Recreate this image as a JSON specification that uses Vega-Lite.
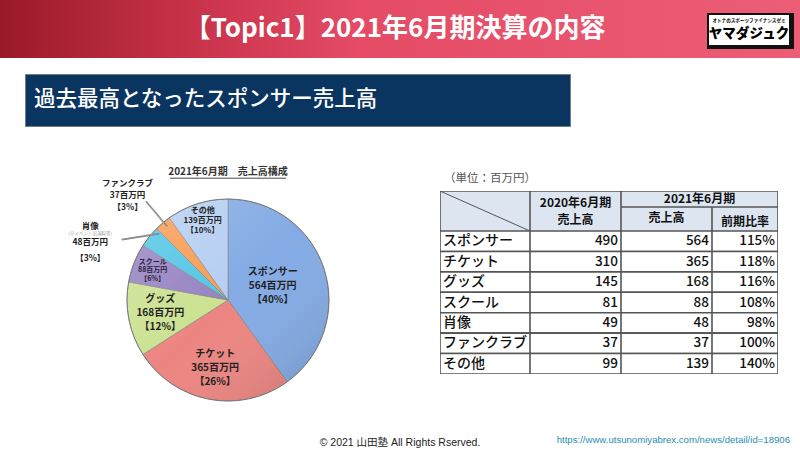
{
  "$schema": "https://vega.github.io/schema/vega-lite/v6.json",
  "background": "white",
  "padding": 0,
  "config": {"view": {"stroke": null}, "font": "Noto Sans CJK JP"},
  "datasets": {
    "sales": [
      {"category": "スポンサー", "v2020": 490, "v2021": 564, "ratio": "115%", "share": "40%"},
      {"category": "チケット", "v2020": 310, "v2021": 365, "ratio": "118%", "share": "26%"},
      {"category": "グッズ", "v2020": 145, "v2021": 168, "ratio": "116%", "share": "12%"},
      {"category": "スクール", "v2020": 81, "v2021": 88, "ratio": "108%", "share": "6%"},
      {"category": "肖像", "v2020": 49, "v2021": 48, "ratio": "98%", "share": "3%"},
      {"category": "ファンクラブ", "v2020": 37, "v2021": 37, "ratio": "100%", "share": "3%"},
      {"category": "その他", "v2020": 99, "v2021": 139, "ratio": "140%", "share": "10%"}
    ]
  },
  "spacing": 15,
  "vconcat": [
    {
      "width": 800,
      "height": 58,
      "view": {"fill": {"gradient": "linear", "x1": 0, "y1": 0, "x2": 1, "y2": 0, "stops": [{"offset": 0, "color": "#9a1a2a"}, {"offset": 0.22, "color": "#c53047"}, {"offset": 0.45, "color": "#e54b65"}, {"offset": 1, "color": "#ec5d76"}]}, "stroke": null},
      "data": {"values": [{"title": "【Topic1】2021年6月期決算の内容", "logo": "ヤマダジュク", "tag": "オトナのスポーツファイナンスゼミ"}]},
      "layer": [
        {"mark": {"type": "text", "color": "white", "fontSize": 26, "fontWeight": "bold", "dx": -5}, "encoding": {"text": {"field": "title"}}},
        {"mark": {"type": "point", "filled": true, "color": "#111111", "opacity": 1, "size": 10000, "shape": "M-1.86,-0.32L-0.12,-0.32L-0.12,0.40L-1.86,0.40Z"}, "encoding": {"x": {"value": "width"}}},
        {"mark": {"type": "point", "filled": true, "color": "white", "opacity": 1, "size": 10000, "shape": "M-1.82,-0.28L-0.22,-0.28L-0.22,0.32L-1.82,0.32Z"}, "encoding": {"x": {"value": "width"}}},
        {"mark": {"type": "text", "color": "black", "fontSize": 13.5, "fontWeight": 900, "dx": -51, "dy": 5}, "encoding": {"x": {"value": "width"}, "text": {"field": "logo"}}},
        {"mark": {"type": "text", "color": "black", "fontSize": 4.6, "fontWeight": "bold", "dx": -51, "dy": -8}, "encoding": {"x": {"value": "width"}, "text": {"field": "tag"}}}
      ]
    },
    {
      "spacing": 39,
      "vconcat": [
        {
          "spacing": 24,
          "bounds": "flush",
          "hconcat": [
            {"width": 1, "height": 1, "data": {"values": []}, "mark": "point"},
            {
              "width": 545,
              "height": 52,
              "view": {"fill": "#0b3561", "stroke": "#6f7c8c"},
              "data": {"values": [{"t": "過去最高となったスポンサー売上高"}]},
              "mark": {"type": "text", "align": "left", "color": "white", "fontSize": 21.5, "fontWeight": 500, "dx": 9},
              "encoding": {"x": {"value": 0}, "text": {"field": "t"}}
            }
          ]
        },
        {
          "spacing": 1,
          "vconcat": [
            {
              "spacing": 29,
              "hconcat": [
                {"width": 1, "height": 1, "data": {"values": []}, "mark": "point"},
                {
                  "spacing": 14,
                  "hconcat": [
                    {
                      "width": 396,
                      "height": 268,
                      "data": {"name": "sales"},
                      "transform": [
                        {"stack": "v2021", "groupby": [], "as": ["t0", "t1"]},
                        {"calculate": "(datum.t0 + datum.t1) / 2", "as": "mid"},
                        {"calculate": "datum.category + '\\n' + datum.v2021 + '百万円\\n【' + datum.share + '】'", "as": "lbl"}
                      ],
                      "layer": [
                        {
                          "mark": {"type": "arc", "radius": 101, "stroke": "#808080", "strokeWidth": 0.6},
                          "encoding": {
                            "theta": {"field": "t1", "type": "quantitative"},
                            "theta2": {"field": "t0"},
                            "color": {"field": "category", "type": "nominal", "legend": null, "scale": {"domain": ["スポンサー", "チケット", "グッズ", "スクール", "肖像", "ファンクラブ", "その他"], "range": ["#84abe5", "#ec8581", "#cbe191", "#9683c3", "#52c6e5", "#f89c55", "#b5cef2"]}}
                          }
                        },
                        {
                          "data": {"values": [{}]},
                          "mark": {"type": "arc", "radius": 101, "theta": 0, "theta2": 6.2832, "fill": {"gradient": "linear", "x1": 0, "y1": 0, "x2": 1, "y2": 1, "stops": [{"offset": 0, "color": "rgba(255,255,255,0.22)"}, {"offset": 0.5, "color": "rgba(255,255,255,0)"}, {"offset": 1, "color": "rgba(0,0,0,0.16)"}]}, "stroke": "#6d6d6d", "strokeWidth": 0.8},
                          "encoding": {}
                        },
                        {
                          "data": {"values": [{"t": "2021年6月期　売上高構成"}]},
                          "mark": {"type": "text", "radius": 128, "fontSize": 10, "fontWeight": "bold", "color": "#333333"},
                          "encoding": {"theta": {"datum": 0, "type": "quantitative"}, "text": {"field": "t"}}
                        },
                        {
                          "data": {"values": [{}]},
                          "mark": {"type": "point", "filled": false, "opacity": 1, "stroke": "#333333", "strokeWidth": 0.9, "size": 13456, "shape": "M-1,-2.1L1,-2.1"},
                          "encoding": {}
                        },
                        {
                          "transform": [{"filter": "datum.category === 'スポンサー'"}],
                          "mark": {"type": "text", "radius": 47, "dy": -14, "fontSize": 10, "fontWeight": "bold", "lineHeight": 14, "lineBreak": "\n", "color": "#222222"},
                          "encoding": {"theta": {"field": "mid", "type": "quantitative"}, "text": {"field": "lbl"}}
                        },
                        {
                          "transform": [{"filter": {"field": "category", "oneOf": ["チケット", "グッズ"]}}],
                          "mark": {"type": "text", "radius": 69, "dy": -14, "fontSize": 10, "fontWeight": "bold", "lineHeight": 14, "lineBreak": "\n", "color": "#222222"},
                          "encoding": {"theta": {"field": "mid", "type": "quantitative"}, "text": {"field": "lbl"}}
                        },
                        {
                          "transform": [{"filter": "datum.category === 'その他'"}],
                          "mark": {"type": "text", "radius": 83, "dy": -10, "fontSize": 8, "fontWeight": "bold", "lineHeight": 10, "lineBreak": "\n", "color": "#222222"},
                          "encoding": {"theta": {"field": "mid", "type": "quantitative"}, "text": {"field": "lbl"}}
                        },
                        {
                          "transform": [{"filter": "datum.category === 'スクール'"}],
                          "mark": {"type": "text", "radius": 81, "dy": -8.5, "fontSize": 7, "fontWeight": "bold", "lineHeight": 8.5, "lineBreak": "\n", "color": "#2a2040"},
                          "encoding": {"theta": {"field": "mid", "type": "quantitative"}, "text": {"field": "lbl"}}
                        },
                        {
                          "transform": [{"filter": "datum.category === 'ファンクラブ'"}],
                          "mark": {"type": "text", "radius": 140, "dx": -10, "dy": -10, "fontSize": 8.5, "fontWeight": "bold", "lineHeight": 12, "lineBreak": "\n", "color": "#222222"},
                          "encoding": {"theta": {"field": "mid", "type": "quantitative"}, "text": {"field": "lbl"}}
                        },
                        {
                          "transform": [{"filter": "datum.category === '肖像'"}],
                          "mark": {"type": "text", "radius": 150, "dx": -21, "dy": 20.4, "fontSize": 8.5, "fontWeight": "bold", "lineHeight": 16, "lineBreak": "\n", "color": "#222222"},
                          "encoding": {"theta": {"field": "mid", "type": "quantitative"}, "text": {"field": "lbl"}}
                        },
                        {
                          "transform": [{"filter": "datum.category === '肖像'"}],
                          "mark": {"type": "text", "radius": 150, "dx": -21, "dy": 28.6, "fontSize": 4.5, "color": "#9a9a9a"},
                          "encoding": {"theta": {"field": "mid", "type": "quantitative"}, "text": {"value": "(※イベント出演料等)"}}
                        },
                        {
                          "transform": [{"filter": "datum.category === 'ファンクラブ'"}],
                          "mark": {"type": "text", "radius": 112, "angle": 50, "font": "DejaVu Sans Mono", "fontSize": 18, "color": "#8c8c8c"},
                          "encoding": {"theta": {"field": "mid", "type": "quantitative"}, "text": {"value": "───"}}
                        },
                        {
                          "transform": [{"filter": "datum.category === '肖像'"}],
                          "mark": {"type": "text", "radius": 114, "angle": -9, "dx": 0, "dy": 9.5, "font": "DejaVu Sans Mono", "fontSize": 21, "color": "#8c8c8c"},
                          "encoding": {"theta": {"field": "mid", "type": "quantitative"}, "text": {"value": "───"}}
                        }
                      ]
                    },
                    {
                      "spacing": 0,
                      "vconcat": [
                        {
                          "width": 338,
                          "height": 25,
                          "data": {"values": [{"t": "（単位：百万円）"}]},
                          "mark": {"type": "text", "align": "left", "dx": 4, "fontSize": 11.5, "color": "#555555"},
                          "encoding": {"x": {"value": 0}, "text": {"field": "t"}}
                        },
                        {
                          "spacing": 0,
                          "hconcat": [
                            {
                              "spacing": 0,
                              "bounds": "flush",
                              "vconcat": [
                                {
                                  "width": 90,
                                  "height": 40,
                                  "data": {"values": [{}]},
                                  "layer": [
                                    {"mark": {"type": "rect", "fill": "#dde5f1", "stroke": "#555555", "strokeWidth": 1.6, "clip": true}, "encoding": {}},
                                    {"mark": {"type": "rule", "color": "#555555", "strokeWidth": 1, "clip": true}, "encoding": {"x": {"value": 0}, "y": {"value": 0}, "x2": {"value": "width"}, "y2": {"value": "height"}}}
                                  ]
                                },
                                {
                                  "width": 90,
                                  "height": 143,
                                  "data": {"name": "sales"},
                                  "encoding": {"y": {"field": "category", "type": "nominal", "sort": null, "axis": null, "scale": {"paddingInner": 0, "paddingOuter": 0}}},
                                  "layer": [
                                    {"mark": {"type": "rect", "fill": "white", "stroke": "#555555", "strokeWidth": 1.6, "clip": true}},
                                    {"mark": {"type": "text", "align": "left", "dx": 3, "fontSize": 14, "fontWeight": 500, "color": "#111111"}, "encoding": {"x": {"value": 0}, "text": {"field": "category"}}}
                                  ]
                                }
                              ]
                            },
                            {
                              "spacing": 0,
                              "bounds": "flush",
                              "vconcat": [
                                {
                                  "width": 91,
                                  "height": 40,
                                  "data": {"values": [{}]},
                                  "layer": [
                                    {"mark": {"type": "rect", "fill": "#dde5f1", "stroke": "#555555", "strokeWidth": 1.6, "clip": true}, "encoding": {}},
                                    {"mark": {"type": "text", "fontSize": 12, "fontWeight": "bold", "lineHeight": 17, "dy": -8.5, "color": "#111111"}, "encoding": {"text": {"value": ["2020年6月期", "売上高"]}}}
                                  ]
                                },
                                {
                                  "width": 91,
                                  "height": 143,
                                  "data": {"name": "sales"},
                                  "encoding": {"y": {"field": "category", "type": "nominal", "sort": null, "axis": null, "scale": {"paddingInner": 0, "paddingOuter": 0}}},
                                  "layer": [
                                    {"mark": {"type": "rect", "fill": "white", "stroke": "#555555", "strokeWidth": 1.6, "clip": true}},
                                    {"mark": {"type": "text", "align": "right", "dx": -3, "fontSize": 13.5, "fontWeight": 500, "color": "#111111"}, "encoding": {"x": {"value": "width"}, "text": {"field": "v2020", "type": "quantitative"}}}
                                  ]
                                }
                              ]
                            },
                            {
                              "spacing": 0,
                              "vconcat": [
                                {
                                  "width": 157,
                                  "height": 16,
                                  "data": {"values": [{}]},
                                  "layer": [
                                    {"mark": {"type": "rect", "fill": "#dde5f1", "stroke": "#555555", "strokeWidth": 1.6, "clip": true}, "encoding": {}},
                                    {"mark": {"type": "text", "fontSize": 12, "fontWeight": "bold", "color": "#111111"}, "encoding": {"text": {"value": "2021年6月期"}}}
                                  ]
                                },
                                {
                                  "spacing": 0,
                                  "hconcat": [
                                    {
                                      "spacing": 0,
                                      "bounds": "flush",
                                      "vconcat": [
                                        {
                                          "width": 91,
                                          "height": 24,
                                          "data": {"values": [{}]},
                                          "layer": [
                                            {"mark": {"type": "rect", "fill": "#dde5f1", "stroke": "#555555", "strokeWidth": 1.6, "clip": true}, "encoding": {}},
                                            {"mark": {"type": "text", "fontSize": 12, "fontWeight": "bold", "color": "#111111", "dy": -1}, "encoding": {"text": {"value": "売上高"}}}
                                          ]
                                        },
                                        {
                                          "width": 91,
                                          "height": 143,
                                          "data": {"name": "sales"},
                                          "encoding": {"y": {"field": "category", "type": "nominal", "sort": null, "axis": null, "scale": {"paddingInner": 0, "paddingOuter": 0}}},
                                          "layer": [
                                            {"mark": {"type": "rect", "fill": "white", "stroke": "#555555", "strokeWidth": 1.6, "clip": true}},
                                            {"mark": {"type": "text", "align": "right", "dx": -3, "fontSize": 13.5, "fontWeight": 500, "color": "#111111"}, "encoding": {"x": {"value": "width"}, "text": {"field": "v2021", "type": "quantitative"}}}
                                          ]
                                        }
                                      ]
                                    },
                                    {
                                      "spacing": 0,
                                      "bounds": "flush",
                                      "vconcat": [
                                        {
                                          "width": 66,
                                          "height": 24,
                                          "data": {"values": [{}]},
                                          "layer": [
                                            {"mark": {"type": "rect", "fill": "#dde5f1", "stroke": "#555555", "strokeWidth": 1.6, "clip": true}, "encoding": {}},
                                            {"mark": {"type": "text", "fontSize": 12, "fontWeight": "bold", "color": "#111111", "dy": 3}, "encoding": {"text": {"value": "前期比率"}}}
                                          ]
                                        },
                                        {
                                          "width": 66,
                                          "height": 143,
                                          "data": {"name": "sales"},
                                          "encoding": {"y": {"field": "category", "type": "nominal", "sort": null, "axis": null, "scale": {"paddingInner": 0, "paddingOuter": 0}}},
                                          "layer": [
                                            {"mark": {"type": "rect", "fill": "white", "stroke": "#555555", "strokeWidth": 1.6, "clip": true}},
                                            {"mark": {"type": "text", "align": "right", "dx": -3, "fontSize": 13.5, "fontWeight": 500, "color": "#111111"}, "encoding": {"x": {"value": "width"}, "text": {"field": "ratio"}}}
                                          ]
                                        }
                                      ]
                                    }
                                  ]
                                }
                              ]
                            }
                          ]
                        }
                      ]
                    }
                  ]
                }
              ]
            },
            {
              "width": 800,
              "height": 14,
              "data": {"values": [{"c": "© 2021 山田塾 All Rights Rserved.", "u": "https://www.utsunomiyabrex.com/news/detail/id=18906"}]},
              "layer": [
                {"mark": {"type": "text", "fontSize": 10.5, "font": "Liberation Sans, Noto Sans CJK JP", "color": "#222222"}, "encoding": {"text": {"field": "c"}}},
                {"mark": {"type": "text", "align": "right", "fontSize": 9.6, "font": "Liberation Sans", "color": "#2a8db5", "dx": -10, "dy": -3}, "encoding": {"x": {"value": "width"}, "text": {"field": "u"}}}
              ]
            }
          ]
        }
      ]
    }
  ]
}
